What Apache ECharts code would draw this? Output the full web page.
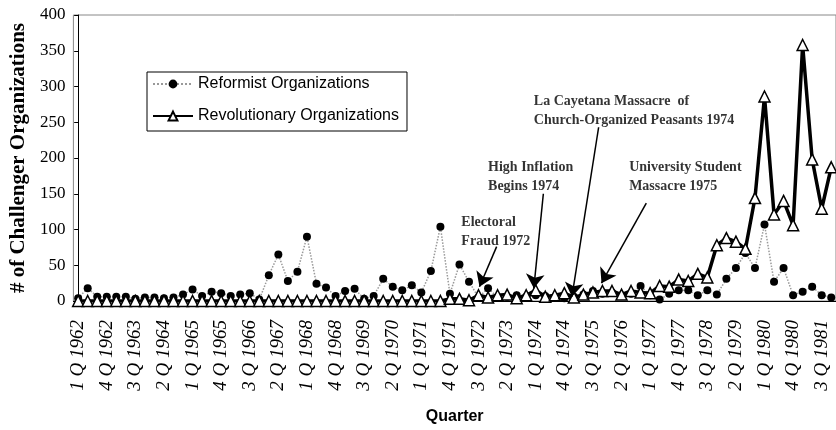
<!DOCTYPE html>
<html>
<head>
<meta charset="utf-8">
<script src="https://cdn.jsdelivr.net/npm/echarts@6/dist/echarts.min.js"></script>
<style>
  html, body {margin: 0; padding: 0; background: #fff;}
  #chart {width: 836px; height: 430px;}
</style>
</head>
<body>
<div id="chart"></div>
<script>
// quarters 1 Q 1962 .. 4 Q 1981
const years = [1962, 1963, 1964, 1965, 1966, 1967, 1968, 1969, 1970, 1971,
               1972, 1973, 1974, 1975, 1976, 1977, 1978, 1979, 1980, 1981];
const quarters = [];
years.forEach(y => [1, 2, 3, 4].forEach(q => quarters.push(q + ' Q ' + y)));

const reformist = [
    4, 18, 6, 6, 6, 6, 3, 5, 5, 4,
    5, 9, 16, 7, 13, 11, 7, 9, 11, 2,
    36, 65, 28, 41, 90, 24, 19, 7, 14, 17,
    3, 7, 31, 20, 15, 22, 12, 42, 104, 10,
    51, 27, 5, 18, 5, 6, 8, 6, 8, 7,
    5, 4, 6, 9, 14, 10, 12, 8, 10, 21,
    8, 2, 10, 15, 15, 8, 15, 9, 31, 46,
    67, 46, 107, 27, 46, 8, 13, 20, 8, 5
];

const revolutionary = [
    0, 0, 0, 0, 0, 0, 0, 0, 0, 0,
    0, 0, 0, 0, 0, 0, 0, 0, 0, 0,
    0, 0, 0, 0, 0, 0, 0, 0, 0, 0,
    0, 0, 0, 0, 0, 0, 0, 0, 0, 3,
    3, 1, 8, 5, 8, 9, 4, 8, 15, 6,
    8, 11, 5, 9, 12, 14, 14, 9, 14, 12,
    11, 21, 20, 30, 28, 38, 33, 78, 88, 83,
    73, 144, 286, 121, 140, 106, 358, 198, 129, 187
];

const seriesNames = ['Reformist Organizations', 'Revolutionary Organizations'];

// event notes: text anchor in (quarter index, count) units
const noteTexts = ['Electoral\nFraud 1972', 'High Inflation\nBegins 1974',
                   'La Cayetana Massacre  of\nChurch-Organized Peasants 1974', 'University Student\nMassacre 1975'];
const noteX = [40.2, 43.0, 47.8, 57.8];
const noteY = [96, 174, 266, 174];
const arrowFrom = [[43.9, 76], [48.8, 150], [54.6, 243], [59.6, 137]];
const arrowTo = [[42.1, 20], [47.8, 18], [51.8, 6], [54.9, 25]];

const chart = echarts.init(document.getElementById('chart'));

const option = {
    animation: false,
    grid: {
        left: 71, top: 15, width: 768, height: 288,
        show: true, borderColor: '#888', borderWidth: 1
    },
    legend: {
        orient: 'vertical',
        left: 147, top: 72,
        padding: [3, 8, 6, 5],
        itemGap: 14,
        itemWidth: 40, itemHeight: 11,
        backgroundColor: '#fff',
        borderColor: '#000', borderWidth: 1,
        textStyle: {fontFamily: 'Liberation Sans', fontSize: 16, color: '#000', lineHeight: 18},
        data: seriesNames
    },
    xAxis: [
        {
            type: 'category',
            data: quarters,
            boundaryGap: true,
            axisLine: {lineStyle: {color: '#000', width: 1}},
            axisTick: {interval: 0, length: 4, lineStyle: {color: '#000'}},
            axisLabel: {
                interval: 2, rotate: 90, margin: 19,
                fontFamily: 'Liberation Serif', fontStyle: 'italic', fontSize: 19, color: '#000'
            },
            name: 'Quarter',
            nameLocation: 'middle',
            nameGap: 108,
            nameTextStyle: {fontFamily: 'Liberation Sans', fontWeight: 'bold', fontSize: 16, color: '#000'}
        },
        {type: 'value', min: -0.5, max: 79.5, show: false}
    ],
    yAxis: {
        type: 'value',
        min: 0, max: 400, interval: 50,
        splitLine: {show: false},
        axisLine: {show: true, lineStyle: {color: '#000', width: 1}},
        axisTick: {show: true, length: 4, lineStyle: {color: '#000'}},
        axisLabel: {fontFamily: 'Liberation Serif', fontSize: 17, color: '#000', margin: 8},
        name: '# of Challenger Organizations',
        nameLocation: 'middle',
        nameGap: 38,
        nameTextStyle: {fontFamily: 'Liberation Serif', fontWeight: 'bold', fontSize: 21, color: '#000'}
    },
    series: [
        {
            name: seriesNames[0],
            type: 'line',
            data: reformist,
            symbol: 'circle',
            symbolSize: 8,
            showAllSymbol: true,
            itemStyle: {color: '#000'},
            lineStyle: {color: '#999', width: 1.5, type: 'dotted'}
        },
        {
            name: seriesNames[1],
            type: 'line',
            data: revolutionary,
            symbol: 'triangle',
            symbolSize: 11,
            showAllSymbol: true,
            itemStyle: {color: '#fff', borderColor: '#000', borderWidth: 1.5},
            lineStyle: {color: '#000', width: 3.5}
        },
        {
            name: 'notes',
            type: 'scatter',
            xAxisIndex: 1,
            silent: true,
            symbolSize: 0,
            z: 5,
            data: noteTexts.map((t, i) => ({
                value: [noteX[i], noteY[i]],
                label: {formatter: t}
            })),
            label: {
                show: true,
                position: [0, 0],
                align: 'left',
                verticalAlign: 'middle',
                fontFamily: 'Liberation Serif',
                fontWeight: 'bold',
                fontSize: 14,
                lineHeight: 19,
                color: '#000'
            },
            markLine: {
                silent: true,
                symbol: ['none', 'arrow'],
                symbolSize: 14,
                lineStyle: {color: '#000', width: 1.5, type: 'solid'},
                itemStyle: {color: '#000'},
                label: {show: false},
                data: arrowFrom.map((f, i) => [{coord: f}, {coord: arrowTo[i]}])
            }
        }
    ]
};

chart.setOption(option);
</script>
</body>
</html>
